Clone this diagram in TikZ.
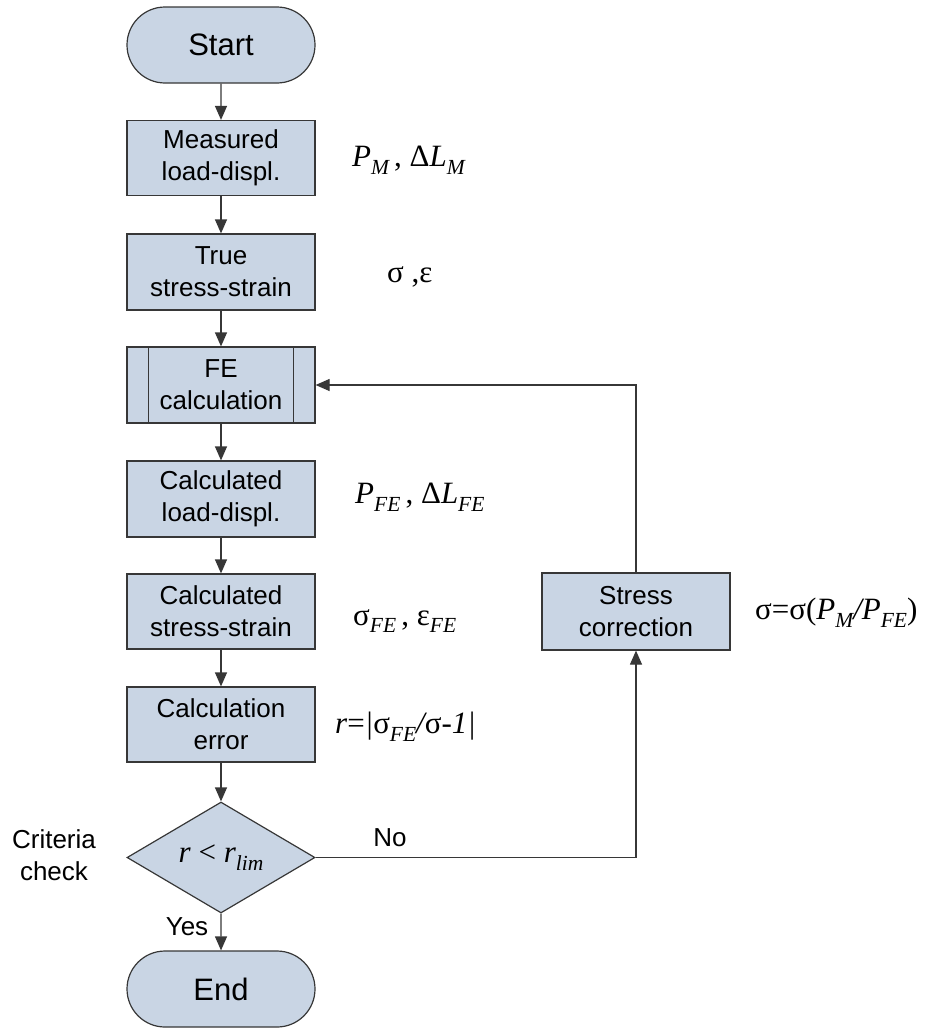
\documentclass[tikz,border=0pt]{standalone}
\usepackage{fontspec}
\setmainfont{Liberation Sans}
\newfontfamily\tms{Liberation Serif}
\usetikzlibrary{shapes.misc,shapes.geometric,arrows.meta}
\definecolor{boxfill}{RGB}{201,213,228}
\definecolor{boxline}{RGB}{55,55,55}
\newcommand{\Sb}[1]{\raisebox{-0.25em}{\fontsize{21.5}{22}\selectfont\itshape #1}}
\newcommand{\mlab}{\tms\fontsize{31}{33}\selectfont}
\begin{document}
\begin{tikzpicture}[x=1pt,y=-1pt,
  every node/.style={font=\fontsize{26}{32}\selectfont},
  procbox/.style={draw=boxline,fill=boxfill,line width=1.2pt,minimum width=188pt,minimum height=75pt,align=center,inner sep=0pt},
  termbox/.style={draw=boxline,fill=boxfill,line width=1.2pt,rounded rectangle,minimum width=188pt,minimum height=76pt,inner sep=0pt,font=\fontsize{31}{35}\selectfont},
  decbox/.style={draw=boxline,fill=boxfill,line width=1.2pt,diamond,aspect=1.7,minimum width=188pt,minimum height=111pt,inner sep=0pt},
  arr/.style={draw=boxline,line width=1.2pt,-{Triangle[width=12pt,length=14pt]}},
  lab/.style={anchor=west,inner sep=0pt}
]
\useasboundingbox (0,0) rectangle (931,1028);
\node[termbox] (start) at (221,45) {Start};
\node[procbox] (meas) at (221,158) {Measured\\load-displ.};
\node[procbox,minimum height=76pt] (true) at (221,272) {True\\stress-strain};
\node[procbox,minimum height=76pt] (fe) at (221,385) {FE\\calculation};
\draw[boxline,line width=1.2pt] ([xshift=22pt]fe.north west) -- ([xshift=22pt]fe.south west);
\draw[boxline,line width=1.2pt] ([xshift=-22pt]fe.north east) -- ([xshift=-22pt]fe.south east);
\node[procbox,minimum height=76pt] (cl) at (221,499) {Calculated\\load-displ.};
\node[procbox] (cs) at (221,611.5) {Calculated\\stress-strain};
\node[procbox] (ce) at (221,724.5) {Calculation\\error};
\node[decbox] (dec) at (221,857.5) {\mlab\itshape r \upshape<\itshape\ r\Sb{lim}};
\node[termbox] (end) at (221,989) {End};
\node[procbox,minimum height=77pt] (sc) at (636,611.5) {Stress\\correction};

\node[lab] (l1) at (352,160) {\mlab\itshape P\Sb{M}\upshape\,, Δ\itshape L\Sb{M}};
\node[lab] (l2) at (387,277) {\mlab σ ,ε};
\node[lab] (l3) at (355,497) {\mlab\itshape P\Sb{FE}\upshape\,, Δ\itshape L\Sb{FE}};
\node[lab] (l4) at (353,621) {\mlab σ\Sb{FE}\upshape\,, ε\Sb{FE}};
\node[lab] (l5) at (335,727) {\mlab\itshape r\upshape=\itshape|\upshape σ\Sb{FE}\itshape/\upshape σ-\itshape 1|};
\node[lab] (l6) at (755,613) {\mlab σ=σ(\itshape P\Sb{M}/P\Sb{FE}\upshape)};
\node (crit) at (54,855) [align=center] {Criteria\\check};

\draw[arr] (start) -- (meas);
\draw[arr] (meas) -- (true);
\draw[arr] (true) -- (fe);
\draw[arr] (fe) -- (cl);
\draw[arr] (cl) -- (cs);
\draw[arr] (cs) -- (ce);
\draw[arr] (ce) -- (dec);
\draw[arr] (dec) -- (end);
\node (yes) at (187,927) {Yes};
\node (no) at (390,838) {No};
\draw[arr] (dec.east) -| (sc.south);
\draw[arr] (sc.north) |- (fe.east);
\end{tikzpicture}
\end{document}
